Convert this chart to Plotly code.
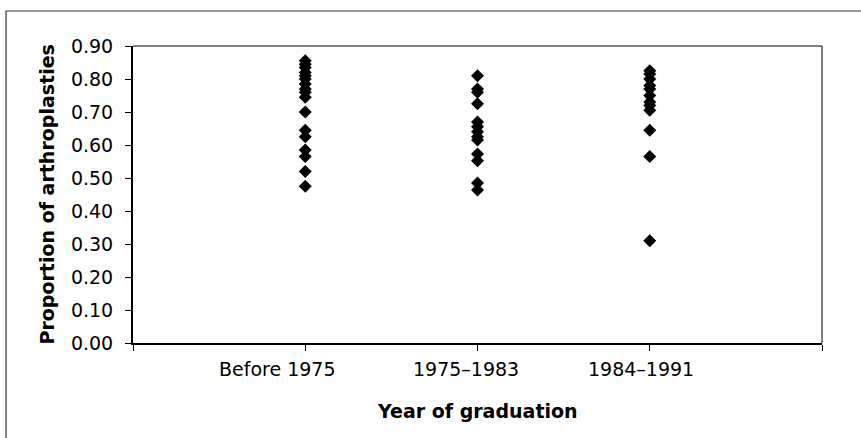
import plotly.graph_objects as go

categories = ["Before 1975", "1975\u20131983", "1984\u20131991"]
before_1975 = [0.855, 0.845, 0.835, 0.82, 0.81, 0.80, 0.785, 0.77, 0.76, 0.745,
               0.70, 0.645, 0.625, 0.585, 0.565, 0.52, 0.475]
y1975_1983 = [0.81, 0.77, 0.76, 0.725, 0.67, 0.655, 0.64, 0.625, 0.615,
              0.573, 0.552, 0.485, 0.464]
y1984_1991 = [0.825, 0.815, 0.80, 0.78, 0.77, 0.75, 0.73, 0.72, 0.705,
              0.645, 0.565, 0.31]
y_ticks = [0.0, 0.1, 0.2, 0.3, 0.4, 0.5, 0.6, 0.7, 0.8, 0.9]

series = [before_1975, y1975_1983, y1984_1991]
xs, ys = [], []
for i, vals in enumerate(series):
    xs += [i + 1] * len(vals)
    ys += vals

font_fam = "DejaVu Sans"
fig = go.Figure()
fig.add_trace(go.Scatter(
    x=xs, y=ys, mode="markers",
    marker=dict(symbol="diamond", size=10, color="black", line=dict(width=0)),
    showlegend=False, hoverinfo="y"))

fig.update_xaxes(range=[0, 4], tickvals=[0, 1, 2, 3, 4], showticklabels=False,
                 ticks="outside", ticklen=6, tickcolor="black", tickwidth=1,
                 showline=True, linecolor="black", linewidth=2, mirror=False,
                 showgrid=False, zeroline=False)
fig.update_yaxes(range=[0, 0.9], tickvals=y_ticks, tickformat=".2f",
                 ticks="outside", ticklen=6, tickcolor="black", tickwidth=1,
                 ticklabelstandoff=8,
                 showline=True, linecolor="black", linewidth=2, mirror=False,
                 showgrid=False, zeroline=False,
                 tickfont=dict(size=19, color="black", family=font_fam))

# top and right frame lines of the plot area
fig.add_shape(type="line", xref="paper", yref="paper", x0=0, x1=1, y0=1, y1=1,
              line=dict(color="black", width=1))
fig.add_shape(type="line", xref="paper", yref="paper", x0=1, x1=1, y0=0, y1=1,
              line=dict(color="black", width=1))

shifts = [-28, -12, -9]
for i, c in enumerate(categories):
    fig.add_annotation(x=i + 1, y=0, xref="x", yref="paper", text=c,
                       showarrow=False, xshift=shifts[i], yshift=-26,
                       yanchor="middle", xanchor="center",
                       font=dict(size=19, color="black", family=font_fam))
fig.add_annotation(x=0.5, y=0, xref="paper", yref="paper",
                   text="<b>Year of graduation</b>", showarrow=False,
                   yshift=-68, yanchor="middle",
                   font=dict(size=19, color="black", family=font_fam))
fig.add_annotation(x=0, y=0.5, xref="paper", yref="paper",
                   text="<b>Proportion of arthroplasties</b>", showarrow=False,
                   textangle=-90, xshift=-87, xanchor="center", yanchor="middle",
                   font=dict(size=19, color="black", family=font_fam))

fig.add_shape(type="rect", xref="paper", yref="paper",
              x0=-0.1843, x1=1.2, y0=-0.6, y1=1.1178,
              line=dict(color="#333333", width=1.2), fillcolor="rgba(0,0,0,0)",
              layer="below")

fig.update_layout(width=861, height=438, margin=dict(l=133, r=39, t=46, b=95),
                  plot_bgcolor="white", paper_bgcolor="white",
                  font=dict(family=font_fam, color="black"))
fig.write_html("out.html", config={"displayModeBar": False},
               post_script="document.body.style.margin='0';document.body.style.overflow='hidden';")
